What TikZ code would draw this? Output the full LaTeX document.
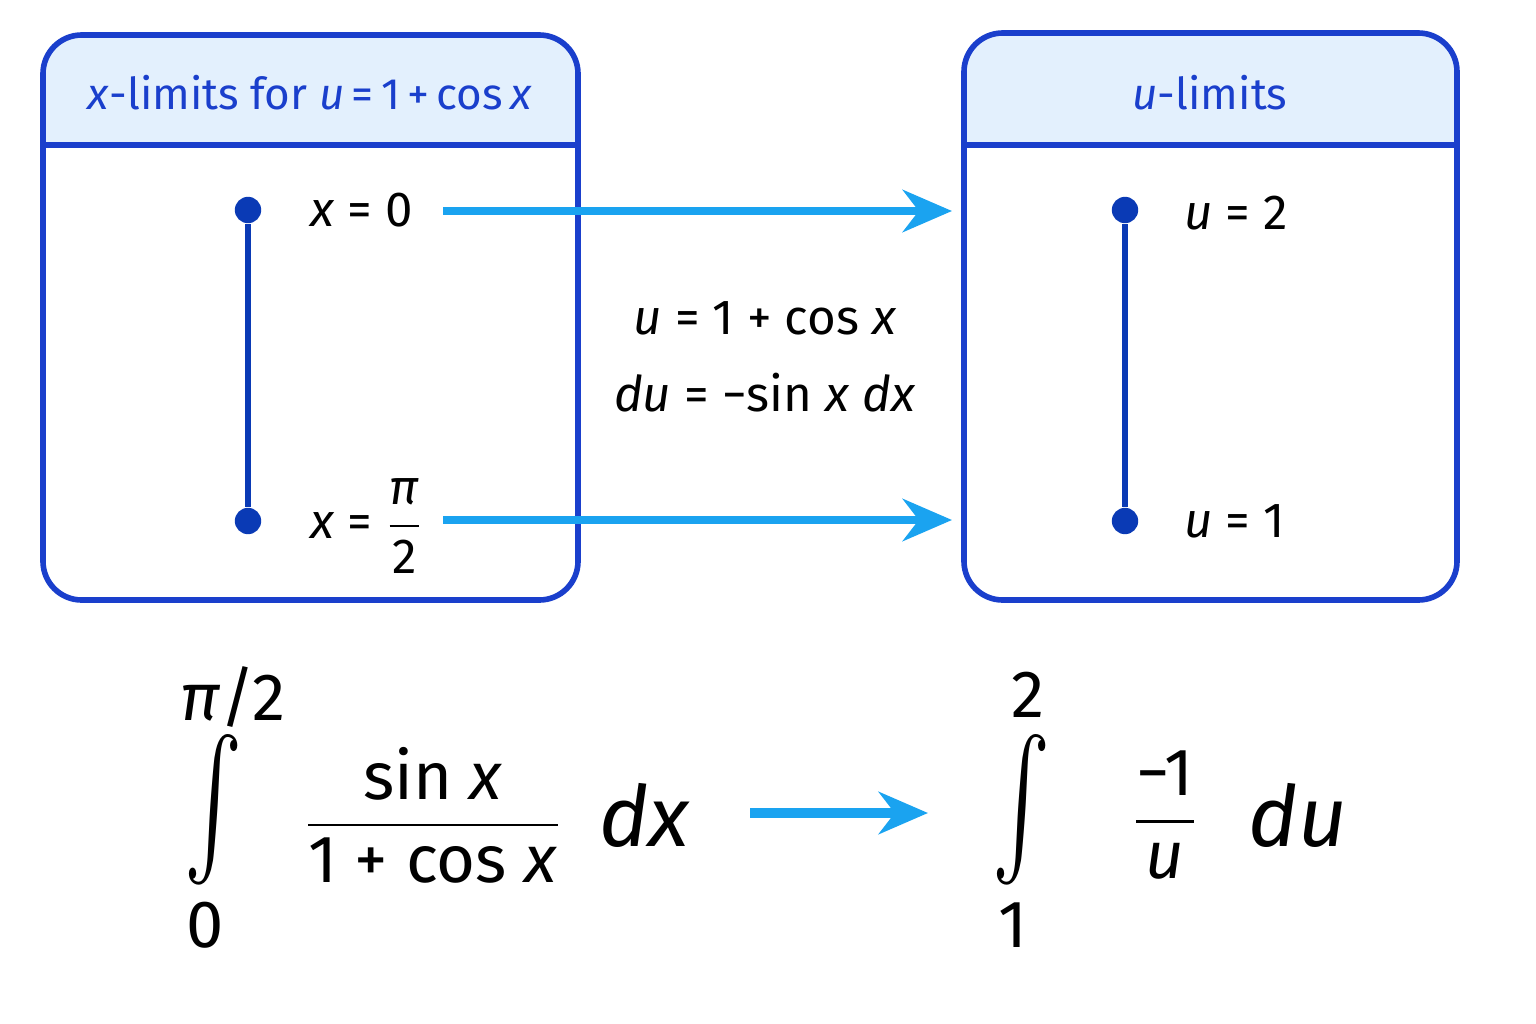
\documentclass[tikz,border=0pt]{standalone}
\usepackage{amsmath}
\usepackage{fontspec}
\setmainfont{Fira Sans}
\usetikzlibrary{arrows.meta}
\definecolor{boxblue}{HTML}{1A3FCC}
\definecolor{headfill}{HTML}{E3F0FD}
\definecolor{arrowblue}{HTML}{1AA3F0}
\definecolor{dotblue}{HTML}{0A3AB5}
\tikzset{
  panel/.style={draw=boxblue,line width=1.6pt,rounded corners=11pt},
  dot/.style={circle,fill=dotblue,minimum size=7.5pt,inner sep=0pt},
  lab/.style={anchor=west,font=\fontsize{14}{16}\selectfont},
  head/.style={text=boxblue,font=\fontsize{12.5}{14}\selectfont},
  map/.style={-{Stealth[length=14pt,width=12pt]},arrowblue,line width=2.2pt},
  big/.style={font=\fontsize{19}{22}\selectfont},
  intsign/.style={font=\fontsize{46}{46}\selectfont,inner sep=0pt}
}
\newcommand{\tallint}{\scalebox{1}[1.55]{$\int$}}
\begin{document}
\begin{tikzpicture}[x=0.01cm,y=-0.01cm]
\useasboundingbox (0,0) rectangle (1536,1024);

% x-limits box
\begin{scope}
\clip[rounded corners=11pt] (43,35) rectangle (578,600);
\fill[headfill] (43,35) rectangle (578,145);
\end{scope}
\draw[panel] (43,35) rectangle (578,600);
\draw[boxblue,line width=1.6pt] (43,145) -- (578,145);
\node[head] (XT) at (310,93) {\textit{x}-limits for \textit{u}\,=\,1\,+\,cos\,\textit{x}};
\node[dot] (X0) at (248,210) {};
\node[dot] (X1) at (248,521) {};
\draw[dotblue,line width=1.6pt] (X0) -- (X1);
\node[lab] (LX0) at (298,210) {\textit{x} = 0};
\node[lab] (LX1) at (298,526) {\textit{x} = $\dfrac{\text{\textit{π}}}{\text{2}}$};

% u-limits box
\begin{scope}
\clip[rounded corners=11pt] (964,33) rectangle (1457,600);
\fill[headfill] (964,33) rectangle (1457,145);
\end{scope}
\draw[panel] (964,33) rectangle (1457,600);
\draw[boxblue,line width=1.6pt] (964,145) -- (1457,145);
\node[head] (UT) at (1210,93) {\textit{u}-limits};
\node[dot] (U0) at (1125,210) {};
\node[dot] (U1) at (1125,521) {};
\draw[dotblue,line width=1.6pt] (U0) -- (U1);
\node[lab] (LU0) at (1172,213) {\textit{u} = 2};
\node[lab] (LU1) at (1172,521) {\textit{u} = 1};

% mapping
\coordinate (A0) at (443,211);
\coordinate (B0) at (952,211);
\coordinate (A1) at (443,520);
\coordinate (B1) at (952,520);
\draw[map] (A0) -- (B0);
\draw[map] (A1) -- (B1);
\node[lab,anchor=center] (S1) at (765,318) {\textit{u} = 1 + cos \textit{x}};
\node[lab,anchor=center] (S2) at (765,393) {\textit{du} = −sin \textit{x} \textit{dx}};

% integrals
\node[intsign] (I1) at (214,810) {\tallint};
\node[big] (I1t) at (233,697) {\textit{π}/2};
\node[big] (I1b) at (205,925) {0};
\node[big] (F1) at (433,815) {$\dfrac{\text{sin \textit{x}}}{\text{1 + cos \textit{x}}}$};
\node[font=\fontsize{24}{26}\selectfont] (D1) at (645,815) {\textit{dx}};
\node[intsign] (I2) at (1022,810) {\tallint};
\node[big] (I2t) at (1028,695) {2};
\node[big] (I2b) at (1013,925) {1};
\node[big] (F2) at (1165,815) {$\dfrac{\text{−1}}{\text{\textit{u}}}$};
\node[font=\fontsize{24}{26}\selectfont] (D2) at (1298,815) {\textit{du}};
\coordinate (C0) at (750,813);
\coordinate (C1) at (928,813);
\draw[map,line width=3pt] (C0) -- (C1);
\end{tikzpicture}
\end{document}
